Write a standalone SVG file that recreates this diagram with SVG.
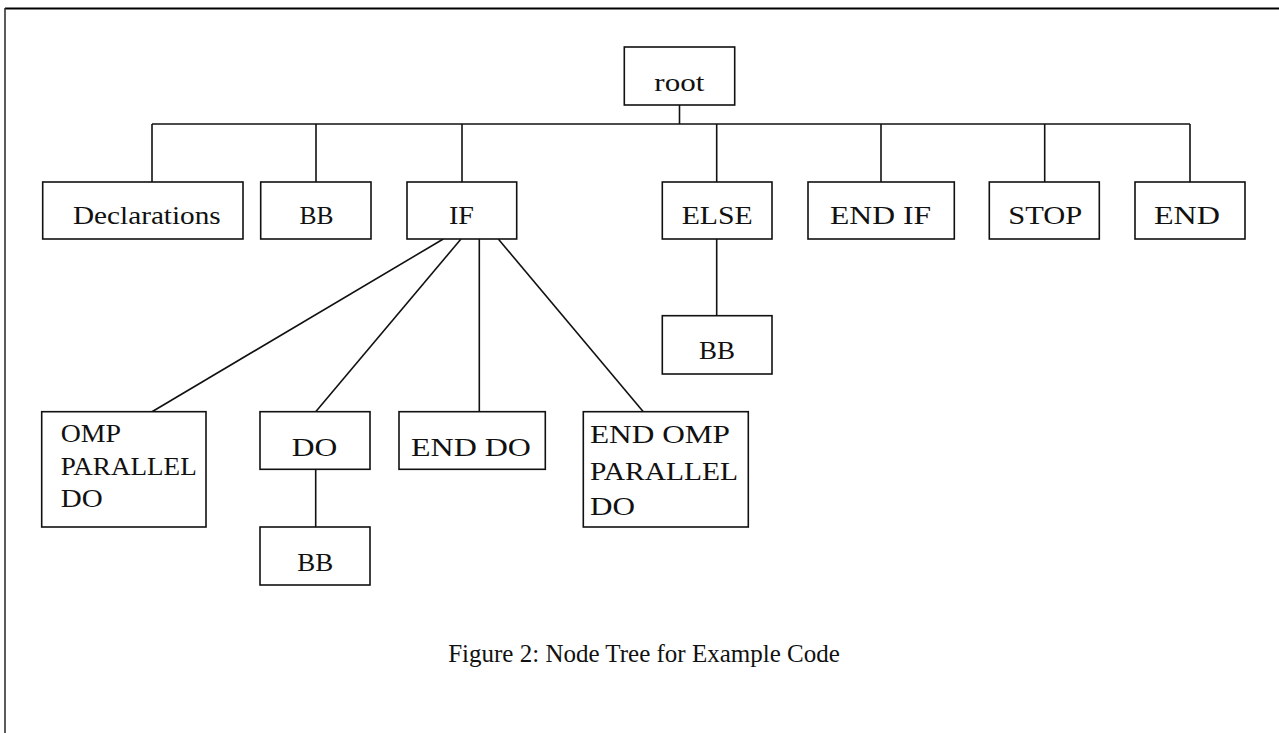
<svg xmlns="http://www.w3.org/2000/svg" width="1279" height="733" viewBox="0 0 1279 733">
<style>
.box{fill:#fff;stroke:#111;stroke-width:1.6}
.lbl{font-family:"Liberation Serif","Times New Roman",serif;font-size:26px;fill:#111}
.cap{font-family:"Liberation Serif","Times New Roman",serif;font-size:25px;fill:#111;text-anchor:middle}
.con{stroke:#111;stroke-width:1.6;fill:none}
</style>
<rect width="1279" height="733" fill="#fff"/>
<g id="frame">
<line x1="5" y1="8.5" x2="1279" y2="8.5" stroke="#000" stroke-width="2"/>
<line x1="5" y1="8" x2="5" y2="733" stroke="#333" stroke-width="1.6"/>
</g>
<g id="connectors">
<line class="con" x1="679.5" y1="105" x2="679.5" y2="124"/>
<line class="con" x1="152" y1="124" x2="1190" y2="124"/>
<line class="con" x1="152" y1="124" x2="152" y2="182"/>
<line class="con" x1="316" y1="124" x2="316" y2="182"/>
<line class="con" x1="462" y1="124" x2="462" y2="182"/>
<line class="con" x1="716.7" y1="124" x2="716.7" y2="182"/>
<line class="con" x1="881" y1="124" x2="881" y2="182"/>
<line class="con" x1="1044.7" y1="124" x2="1044.7" y2="182"/>
<line class="con" x1="1190" y1="124" x2="1190" y2="182"/>
<line class="con" x1="443.3" y1="239" x2="152" y2="411.7"/>
<line class="con" x1="461" y1="239" x2="315.7" y2="411.7"/>
<line class="con" x1="479.3" y1="239" x2="479.3" y2="411.7"/>
<line class="con" x1="498.3" y1="239" x2="643.3" y2="411.7"/>
<line class="con" x1="716.7" y1="239" x2="716.7" y2="315.7"/>
<line class="con" x1="315.7" y1="469.3" x2="315.7" y2="527"/>
</g>
<g id="root"><rect class="box" x="624.3" y="47" width="110.4" height="58"/><text class="lbl" x="654.3" y="90.7" textLength="50" lengthAdjust="spacingAndGlyphs">root</text></g>
<g id="declarations"><rect class="box" x="42.7" y="182" width="200.3" height="57"/><text class="lbl" x="73" y="224" textLength="147.7" lengthAdjust="spacingAndGlyphs">Declarations</text></g>
<g id="bb1"><rect class="box" x="260.7" y="182" width="110.3" height="57"/><text class="lbl" x="299.5" y="224" textLength="34" lengthAdjust="spacingAndGlyphs">BB</text></g>
<g id="if"><rect class="box" x="407" y="182" width="109.7" height="57"/><text class="lbl" x="449" y="224" textLength="25" lengthAdjust="spacingAndGlyphs">IF</text></g>
<g id="else"><rect class="box" x="662.3" y="182" width="109.7" height="57"/><text class="lbl" x="681.7" y="224" textLength="71" lengthAdjust="spacingAndGlyphs">ELSE</text></g>
<g id="endif"><rect class="box" x="808" y="182" width="146.3" height="57"/><text class="lbl" x="830" y="224" textLength="101" lengthAdjust="spacingAndGlyphs">END IF</text></g>
<g id="stop"><rect class="box" x="989.3" y="182" width="110" height="57"/><text class="lbl" x="1008.3" y="224" textLength="74" lengthAdjust="spacingAndGlyphs">STOP</text></g>
<g id="end"><rect class="box" x="1135" y="182" width="110" height="57"/><text class="lbl" x="1154" y="224" textLength="66" lengthAdjust="spacingAndGlyphs">END</text></g>
<g id="else-bb"><rect class="box" x="662.3" y="315.7" width="109.7" height="58.3"/><text class="lbl" x="699" y="359.3" textLength="36" lengthAdjust="spacingAndGlyphs">BB</text></g>
<g id="omp"><rect class="box" x="41.7" y="411.7" width="164.3" height="115.3"/>
<text class="lbl" x="60.7" y="441.7" textLength="60.3" lengthAdjust="spacingAndGlyphs">OMP</text>
<text class="lbl" x="60.7" y="475" textLength="136" lengthAdjust="spacingAndGlyphs">PARALLEL</text>
<text class="lbl" x="60.7" y="507.3" textLength="42" lengthAdjust="spacingAndGlyphs">DO</text></g>
<g id="do"><rect class="box" x="260" y="411.7" width="110" height="57.6"/><text class="lbl" x="291.7" y="456" textLength="45.6" lengthAdjust="spacingAndGlyphs">DO</text></g>
<g id="do-bb"><rect class="box" x="260" y="527" width="110" height="58"/><text class="lbl" x="297.3" y="570.7" textLength="36" lengthAdjust="spacingAndGlyphs">BB</text></g>
<g id="enddo"><rect class="box" x="399" y="411.7" width="146.3" height="57.6"/><text class="lbl" x="411" y="455.7" textLength="120" lengthAdjust="spacingAndGlyphs">END DO</text></g>
<g id="endomp"><rect class="box" x="583.3" y="411.7" width="165" height="115.3"/>
<text class="lbl" x="590" y="443.3" textLength="140" lengthAdjust="spacingAndGlyphs">END OMP</text>
<text class="lbl" x="590" y="480" textLength="148" lengthAdjust="spacingAndGlyphs">PARALLEL</text>
<text class="lbl" x="590" y="515" textLength="45" lengthAdjust="spacingAndGlyphs">DO</text></g>
<g id="caption"><text class="cap" x="644" y="661.7">Figure 2: Node Tree for Example Code</text></g>
</svg>
